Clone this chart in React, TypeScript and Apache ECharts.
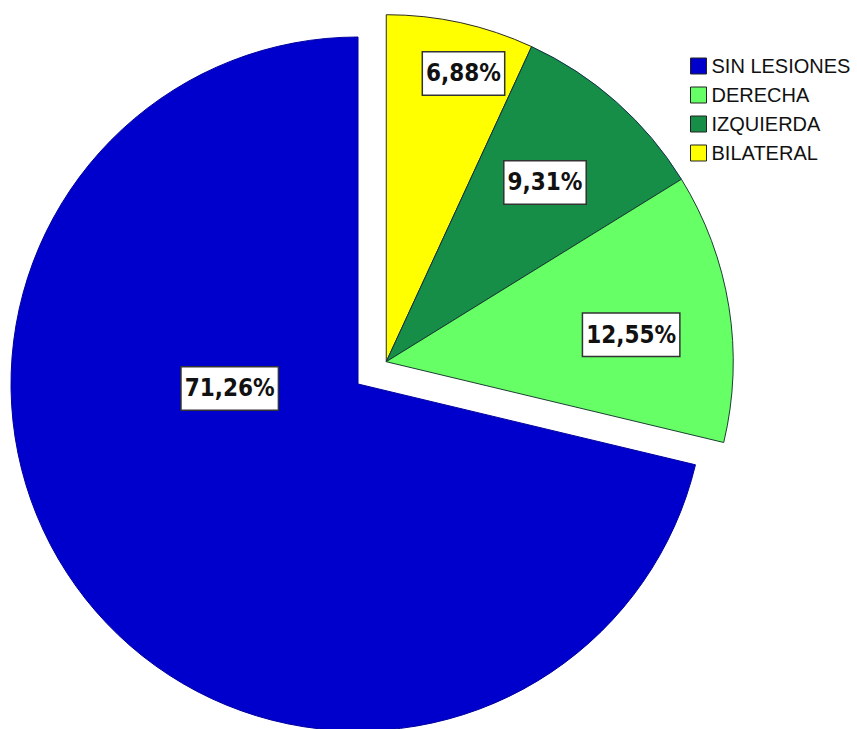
import React, { useEffect, useRef } from "react";
import * as echarts from "echarts";

// Data (clockwise from 12 o'clock)
const categories = ["BILATERAL", "IZQUIERDA", "DERECHA", "SIN LESIONES"];
const values = [6.88, 9.31, 12.55, 71.26];
const colors = ["#FFFF00", "#178E48", "#66FF66", "#0000CC"];
const borderColors = ["#2a2a20", "#10304a", "#1a4030", "#0000A0"];
const legendOrder = ["SIN LESIONES", "DERECHA", "IZQUIERDA", "BILATERAL"];
const explodedNames = ["BILATERAL", "IZQUIERDA", "DERECHA"];

// Layout
const W = 857;
const H = 729;
const CENTER = [358, 384];
const RADIUS = 347;
const EXPLODE = 36;
// label placement: radius fraction and optional angle (deg, math) override
const labelFrac = [0.86, 0.69, 0.71, 0.37];
const labelAngle: (number | null)[] = [75, null, 6.3, 182];

const fmt = (v: number) => v.toFixed(2).replace(".", ",") + "%";

export default function App() {
  const ref = useRef<HTMLDivElement>(null);
  useEffect(() => {
    if (!ref.current) return;
    const chart = echarts.init(ref.current, null, { renderer: "svg" });
    const total = values.reduce((a, b) => a + b, 0);
    const mids: number[] = [];
    let acc = 0;
    values.forEach((v) => {
      const span = (v / total) * 360;
      mids.push(90 - (acc + span / 2));
      acc += span;
    });
    const explodedSpan =
      (values.slice(0, 3).reduce((a, b) => a + b, 0) / total) * 360;
    const explodeMid = ((90 - explodedSpan / 2) * Math.PI) / 180;
    const center2 = [
      CENTER[0] + EXPLODE * Math.cos(explodeMid),
      CENTER[1] - EXPLODE * Math.sin(explodeMid),
    ];

    const labelStyle = {
      show: true,
      position: "inside" as const,
      formatter: (p: any) => fmt(p.value),
      fontFamily:
        '"Liberation Sans Narrow", "Arial Narrow", "DejaVu Sans Condensed", sans-serif',
      fontWeight: "bold" as const,
      fontSize: 24,
      lineHeight: 24,
      color: "#111",
      backgroundColor: "#ffffff",
      borderColor: "#333",
      borderWidth: 1.5,
      padding: [9, 3],
    };

    const makeData = (visible: (n: string) => boolean) =>
      categories.map((name, i) =>
        visible(name)
          ? {
              name,
              value: values[i],
              itemStyle: {
                color: colors[i],
                borderColor: borderColors[i],
                borderWidth: 1,
              },
              label: labelStyle,
            }
          : {
              name,
              value: values[i],
              itemStyle: { color: "rgba(0,0,0,0)", borderWidth: 0 },
              label: { show: false },
            }
      );

    const layoutFor = (cen: number[]) => (params: any) => {
      const i = params.dataIndex;
      const ang = ((labelAngle[i] ?? mids[i]) * Math.PI) / 180;
      const r = RADIUS * labelFrac[i];
      return {
        x: cen[0] + r * Math.cos(ang),
        y: cen[1] - r * Math.sin(ang),
        align: "center",
        verticalAlign: "middle",
      };
    };

    chart.setOption({
      animation: false,
      backgroundColor: "#ffffff",
      legend: {
        orient: "vertical",
        left: 690,
        top: 56,
        padding: 0,
        itemWidth: 16,
        itemHeight: 16,
        itemGap: 9,
        icon: "rect",
        selectedMode: false,
        data: legendOrder.map((n) => ({
          name: n,
          itemStyle: {
            color: colors[categories.indexOf(n)],
            borderColor: "#222",
            borderWidth: 1,
          },
        })),
        textStyle: {
          fontFamily: '"Liberation Sans", Arial, sans-serif',
          fontSize: 20,
          lineHeight: 20,
          color: "#111",
        },
      },
      series: [
        {
          type: "pie",
          center: CENTER,
          radius: RADIUS,
          startAngle: 90,
          clockwise: true,
          silent: true,
          avoidLabelOverlap: false,
          labelLine: { show: false },
          emphasis: { disabled: true },
          data: makeData((n) => !explodedNames.includes(n)),
          labelLayout: layoutFor(CENTER),
        },
        {
          type: "pie",
          center: center2,
          radius: RADIUS,
          startAngle: 90,
          clockwise: true,
          silent: true,
          avoidLabelOverlap: false,
          labelLine: { show: false },
          emphasis: { disabled: true },
          data: makeData((n) => explodedNames.includes(n)),
          labelLayout: layoutFor(center2),
        },
      ],
    });
    return () => chart.dispose();
  }, []);
  return (
    <div
      ref={ref}
      style={{ position: "fixed", left: 0, top: 0, width: W, height: H }}
    />
  );
}
